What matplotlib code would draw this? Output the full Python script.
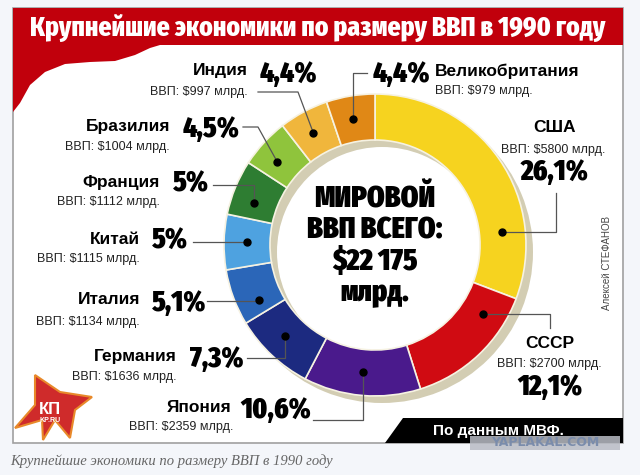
import matplotlib.pyplot as plt
from matplotlib.patches import Rectangle, Polygon, Wedge
import numpy as np

# data
countries = ["США", "СССР", "Япония", "Германия", "Италия",
             "Китай", "Франция", "Бразилия", "Индия", "Великобритания"]
gdp = [5800, 2700, 2359, 1636, 1134, 1115, 1112, 1004, 997, 979]
shares = ["26,1%", "12,1%", "10,6%", "7,3%", "5,1%",
          "5%", "5%", "4,5%", "4,4%", "4,4%"]
colors = ["#f6d31f", "#d00b12", "#4a1a8c", "#1c2a80", "#2b66b8",
          "#4ea2e0", "#2e7d32", "#8fc43c", "#f0b63c", "#e08816"]
total_text = "МИРОВОЙ\nВВП ВСЕГО:\n$22 175\nмлрд."

H = 475
def Y(y):
    return H - y

NARROW = ["Fira Sans Extra Condensed", "DejaVu Sans"]
SANS = ["Liberation Sans", "DejaVu Sans"]

fig = plt.figure(figsize=(6.4, 4.75), dpi=100, facecolor="#f4f6fa")
ax = fig.add_axes([0, 0, 1, 1])
ax.set_facecolor("#f4f6fa")

# white panel with grey frame
ax.add_patch(Rectangle((13, Y(443)), 610, 435, facecolor="white",
                       edgecolor="#a0a0a0", lw=1.2, zorder=0))
# red title band and the wave under it
ax.add_patch(Rectangle((13, Y(45)), 610, 37, facecolor="#c1000c", lw=0, zorder=1))
wave = [(13, Y(45)), (160, Y(45)), (150, Y(48)), (135, Y(55)), (115, Y(61)),
        (90, Y(62)), (65, Y(64)), (45, Y(72)), (30, Y(85)), (20, Y(103)), (13, Y(112))]
ax.add_patch(Polygon(wave, closed=True, facecolor="#c1000c", lw=0, zorder=1))
ax.text(318, Y(28), "Крупнейшие экономики по размеру ВВП в 1990 году",
        family=NARROW, weight=800, fontsize=20, color="white",
        ha="center", va="center", zorder=2)

# donut with its shadow ring
cx, cy, r_out, r_in = 375, Y(245), 151, 105
ax.add_patch(Wedge((cx + 7, cy - 7), r_out, 0, 360, width=r_out - r_in,
                   facecolor="#d3cdb3", lw=0, zorder=2))
wedges, _ = ax.pie(gdp, colors=colors, startangle=90, counterclock=False,
                   radius=r_out, center=(cx, cy),
                   wedgeprops=dict(width=r_out - r_in, edgecolor="#f6f2e2",
                                   linewidth=1.2))
for w in wedges:
    w.set_zorder(3)

ax.text(cx, cy - 1, total_text, family=NARROW, weight=900, fontsize=22,
        ha="center", va="center", linespacing=1.05, zorder=4)

# where each dot sits inside its wedge (0 = start, 1 = end, clockwise)
dot_pos = [0.76, 0.23, 0.51, 0.55, 0.27, 0.51, 0.34, 0.38, 0.47, 0.48]
r_dot = (r_out + r_in) / 2

# label layout in picture pixels: name, gdp line, share, leader start, leader kind
layout = [
    dict(name=(555, 128, "center"), gdpl=(553, 150, "center"), pct=(555, 172, "center"), lead=(556, 193), kind="vh"),
    dict(name=(550, 343, "center"), gdpl=(549, 364, "center"), pct=(550, 387, "center"), lead=(550, 328), kind="vh"),
    dict(name=(231, 407, "right"), gdpl=(233, 427, "right"), pct=(240, 410, "left"), lead=(313, 420), kind="hv"),
    dict(name=(177, 356, "right"), gdpl=(177, 377, "right"), pct=(190, 359, "left"), lead=(247, 358), kind="hv"),
    dict(name=(140, 300, "right"), gdpl=(140, 322, "right"), pct=(152, 303, "left"), lead=(207, 301), kind="hv"),
    dict(name=(140, 240, "right"), gdpl=(140, 259, "right"), pct=(152, 241, "left"), lead=(193, 242), kind="hv"),
    dict(name=(160, 182, "right"), gdpl=(160, 202, "right"), pct=(173, 184, "left"), lead=(213, 185), kind="hv"),
    dict(name=(170, 126, "right"), gdpl=(170, 147, "right"), pct=(183, 129, "left"), lead=(243, 127), kind=258),
    dict(name=(248, 71, "right"), gdpl=(248, 92, "right"), pct=(260, 74, "left"), lead=(258, 92), kind=298),
    dict(name=(435, 71, "left"), gdpl=(435, 91, "left"), pct=(373, 74, "left"), lead=(367, 73), kind="hv"),
]

for w, f, lay, name, val, sh in zip(wedges, dot_pos, layout, countries, gdp, shares):
    ang = np.deg2rad(w.theta2 - f * (w.theta2 - w.theta1))
    dx, dy = cx + r_dot * np.cos(ang), cy + r_dot * np.sin(ang)
    sx, sy = lay["lead"][0], Y(lay["lead"][1])
    if lay["kind"] == "hv":
        xs, ys = [sx, dx, dx], [sy, sy, dy]
    elif lay["kind"] == "vh":
        xs, ys = [sx, sx, dx], [sy, dy, dy]
    else:
        xs, ys = [sx, lay["kind"], dx], [sy, sy, dy]
    ax.plot(xs, ys, color="#555555", lw=0.9, zorder=5)
    ax.plot(dx, dy, "o", color="black", ms=5, zorder=6)

    x, y, ha = lay["name"]
    ax.text(x, Y(y), name, family=SANS, weight="bold", fontsize=12.5,
            ha=ha, va="center", zorder=6)
    x, y, ha = lay["gdpl"]
    ax.text(x, Y(y), f"ВВП: ${val} млрд.", family=SANS, fontsize=9,
            color="#222222", ha=ha, va="center", zorder=6)
    x, y, ha = lay["pct"]
    ax.text(x, Y(y), sh, family=NARROW, weight=900, fontsize=21,
            ha=ha, va="center", zorder=6)

# author credit
ax.text(607, Y(263), "Алексей СТЕФАНОВ", family=SANS, fontsize=7,
        color="#444444", rotation=90, ha="center", va="center")

# source band
ax.add_patch(Polygon([(403, Y(418)), (623, Y(418)), (623, Y(443)), (385, Y(443))],
                     closed=True, facecolor="black", lw=0, zorder=2))
ax.text(498, Y(431), "По данным МВФ.", family=SANS, weight="bold", fontsize=11,
        color="white", ha="center", va="center", zorder=3)
ax.add_patch(Rectangle((470, Y(450)), 150, 14, facecolor="#b8bcc4", alpha=0.85,
                       lw=0, zorder=4))
ax.text(545, Y(443), "YAPLAKAL.COM", family=["DejaVu Sans"], weight="bold",
        fontsize=9, color="#7a8cab", ha="center", va="center", zorder=5)

# KP logo
star = [(35, 375), (60, 392), (92, 397), (75, 410), (70, 438), (55, 420),
        (43, 440), (42, 420), (15, 428), (35, 405)]
ax.add_patch(Polygon([(x, Y(y)) for x, y in star], closed=True,
                     facecolor="#cf2b2b", edgecolor="#e8892a", lw=1.5, zorder=2))
ax.text(50, Y(409), "КП", family=SANS, weight="bold", fontsize=12,
        color="white", ha="center", va="center", zorder=3)
ax.text(50, Y(420), "KP.RU", family=SANS, weight="bold", fontsize=5,
        color="white", ha="center", va="center", zorder=3)

# caption under the panel
ax.text(10, Y(461), "Крупнейшие экономики по размеру ВВП в 1990 году",
        family=["Liberation Serif", "DejaVu Serif"], style="italic",
        fontsize=10.5, color="#666666", ha="left", va="center")

ax.set_xlim(0, 640)
ax.set_ylim(0, H)
ax.set_aspect("equal")
ax.axis("off")
fig.savefig("out.png", dpi=100, facecolor=fig.get_facecolor())
